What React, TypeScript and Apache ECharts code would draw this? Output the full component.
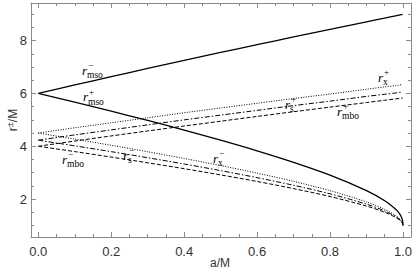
import React, { useEffect, useRef } from "react";
import * as echarts from "echarts";

// spin parameter a/M
const aValues = [0, 0.1, 0.2, 0.3, 0.4, 0.5, 0.6, 0.7, 0.8, 0.9, 0.95, 0.98, 0.99, 0.995, 0.999, 1];
// solid curves
const rMsoMinus = [6, 6.323, 6.639, 6.949, 7.254, 7.555, 7.851, 8.143, 8.432, 8.717, 8.858, 8.944, 8.972, 8.986, 8.997, 9.0];
const rMsoPlus = [6, 5.669, 5.329, 4.979, 4.614, 4.233, 3.829, 3.393, 2.907, 2.321, 1.937, 1.614, 1.455, 1.34, 1.18, 1.0];
// dotted curves
const rXPlus = [4.5, 4.7, 4.89, 5.08, 5.27, 5.45, 5.63, 5.81, 5.98, 6.16, 6.25, 6.3, 6.32, 6.33, 6.34, 6.34];
const rXMinus = [4.5, 4.271, 4.036, 3.791, 3.536, 3.268, 2.981, 2.669, 2.318, 1.89, 1.609, 1.374, 1.26, 1.181, 1.08, 1.0];
// dash-dot curves
const rSPlus = [4.23, 4.43, 4.62, 4.81, 5.0, 5.18, 5.36, 5.54, 5.71, 5.89, 5.97, 6.02, 6.04, 6.05, 6.06, 6.06];
const rSMinus = [4.23, 4.015, 3.795, 3.565, 3.327, 3.077, 2.81, 2.521, 2.197, 1.805, 1.548, 1.336, 1.233, 1.162, 1.071, 1.0];
// dashed curves
const rMboPlus = [4, 4.198, 4.391, 4.58, 4.766, 4.949, 5.13, 5.308, 5.483, 5.657, 5.743, 5.794, 5.811, 5.82, 5.826, 5.828];
const rMboMinus = [4, 3.797, 3.589, 3.373, 3.149, 2.914, 2.665, 2.395, 2.094, 1.732, 1.497, 1.303, 1.21, 1.146, 1.064, 1.0];

const xMajor = [0, 0.2, 0.4, 0.6, 0.8, 1.0];
const xMinor = [0, 0.05, 0.1, 0.15, 0.2, 0.25, 0.3, 0.35, 0.4, 0.45, 0.5, 0.55, 0.6, 0.65, 0.7, 0.75, 0.8, 0.85, 0.9, 0.95, 1.0];
const yMajor = [2, 4, 6, 8];
const yMinor = [1, 1.5, 2, 2.5, 3, 3.5, 4, 4.5, 5, 5.5, 6, 6.5, 7, 7.5, 8, 8.5, 9];

const pairs = (ys: number[]) => aValues.map((a, i) => [a, ys[i]]);

const FRAME = "#8a8a8a";
const LABEL = "#333";

function mkX(position: string, ticks: number[], len: number, labels: boolean, line: boolean) {
  return {
    type: "value",
    position,
    min: -0.02,
    max: 1.022,
    axisLine: { show: line, onZero: false, lineStyle: { color: FRAME, width: 1 } },
    axisTick: { show: true, inside: true, length: len, customValues: ticks, lineStyle: { color: FRAME, width: 1 } },
    axisLabel: labels
      ? { show: true, customValues: xMajor, formatter: (v: number) => v.toFixed(1), fontSize: 13, color: LABEL, fontFamily: "Liberation Sans", margin: 8 }
      : { show: false },
    splitLine: { show: false },
  };
}
function mkY(position: string, ticks: number[], len: number, labels: boolean, line: boolean) {
  return {
    type: "value",
    position,
    min: 0.56,
    max: 9.43,
    axisLine: { show: line, onZero: false, lineStyle: { color: FRAME, width: 1 } },
    axisTick: { show: true, inside: true, length: len, customValues: ticks, lineStyle: { color: FRAME, width: 1 } },
    axisLabel: labels
      ? { show: true, customValues: yMajor, formatter: (v: number) => String(v), fontSize: 13, color: LABEL, fontFamily: "Liberation Sans", margin: 4 }
      : { show: false },
    splitLine: { show: false },
  };
}

function curveLabel(x: number, y: number, sup: string, sub: string) {
  return {
    type: "group",
    x,
    y,
    silent: true,
    children: [
      { type: "text", x: 0, y: 0, style: { text: "r", fontSize: 13, fontStyle: "italic", fontFamily: "Liberation Serif", fill: "#000", align: "left", verticalAlign: "middle" } },
      { type: "text", x: 6, y: -5, style: { text: sup, fontSize: 9, fontFamily: "Liberation Serif", fill: "#000", align: "left", verticalAlign: "middle" } },
      { type: "text", x: 5, y: 5, style: { text: sub, fontSize: 9.5, fontFamily: "Liberation Serif", fill: "#000", align: "left", verticalAlign: "middle" } },
    ],
  };
}

export default function App() {
  const ref = useRef<HTMLDivElement>(null);
  useEffect(() => {
    document.body.style.margin = "0";
    const chart = echarts.init(ref.current!, undefined, { renderer: "svg" });
    const line = (name: string, ys: number[], type: any, width: number) => ({
      name,
      type: "line",
      data: pairs(ys),
      xAxisIndex: 0,
      yAxisIndex: 0,
      showSymbol: false,
      smooth: 0.3,
      lineStyle: { color: "#000", width, type },
    });
    chart.setOption({
      animation: false,
      backgroundColor: "#fff",
      grid: { left: 31, right: 4, top: 3, bottom: 39, containLabel: false },
      xAxis: [
        mkX("bottom", xMajor, 5, true, true),
        mkX("bottom", xMinor, 3, false, false),
        mkX("top", xMajor, 5, false, true),
        mkX("top", xMinor, 3, false, false),
      ],
      yAxis: [
        mkY("left", yMajor, 5, true, true),
        mkY("left", yMinor, 3, false, false),
        mkY("right", yMajor, 5, false, true),
        mkY("right", yMinor, 3, false, false),
      ],
      series: [
        line("r_mso-", rMsoMinus, "solid", 1.3),
        line("r_mso+", rMsoPlus, "solid", 1.3),
        line("r_x+", rXPlus, [1, 1.5], 1),
        line("r_x-", rXMinus, [1, 1.5], 1),
        line("r_s+", rSPlus, [5, 2, 1.5, 2], 1),
        line("r_s-", rSMinus, [5, 2, 1.5, 2], 1),
        line("r_mbo+", rMboPlus, [4, 2], 1),
        line("r_mbo-", rMboMinus, [4, 2], 1),
      ],
      graphic: [
        curveLabel(82, 70, "\u2212", "mso"),
        curveLabel(83, 96.5, "+", "mso"),
        curveLabel(378, 77, "+", "x"),
        curveLabel(285, 104, "+", "s"),
        curveLabel(337, 111, "+", "mbo"),
        curveLabel(62, 159, "\u2212", "mbo"),
        curveLabel(123, 155, "\u2212", "s"),
        curveLabel(213, 158, "\u2212", "x"),
        { type: "text", x: 220, y: 263, style: { text: "a/M", fontSize: 12, fontFamily: "Liberation Sans", fill: LABEL, align: "center", verticalAlign: "middle" } },
        {
          type: "text",
          x: 12,
          y: 120,
          rotation: Math.PI / 2,
          style: {
            text: "{r|r}{s|\u00b1}{r|/M}",
            fontFamily: "Liberation Sans",
            fill: LABEL,
            align: "center",
            verticalAlign: "middle",
            rich: {
              r: { fontSize: 12, fontFamily: "Liberation Sans", fill: LABEL, verticalAlign: "bottom", lineHeight: 14 },
              s: { fontSize: 9, fontFamily: "Liberation Sans", fill: LABEL, verticalAlign: "top", lineHeight: 14 },
            },
          },
        },
      ],
    });
    return () => chart.dispose();
  }, []);
  return <div ref={ref} style={{ width: 415, height: 276 }} />;
}
